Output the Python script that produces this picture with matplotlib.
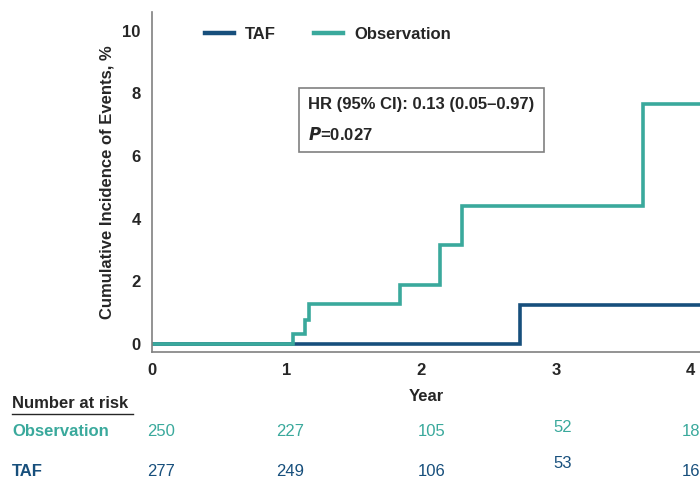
import matplotlib

matplotlib.use("Agg")
import matplotlib.pyplot as plt
from matplotlib.lines import Line2D

plt.rcParams["font.family"] = ["Liberation Sans", "DejaVu Sans"]

TEAL = "#3aa99c"
BLUE = "#174f7c"
GRAY = "#808080"
TEXT = "#262626"

# step curves (year, cumulative incidence %)
obs_years = [0.0, 1.05, 1.14, 1.17, 1.84, 2.14, 2.30, 3.65, 4.07]
obs_values = [0.0, 0.32, 0.77, 1.29, 1.87, 3.16, 4.42, 7.65, 7.65]
taf_years = [0.0, 2.73, 4.07]
taf_values = [0.0, 1.23, 1.23]

risk_years = [0, 1, 2, 3, 4]
risk_obs = [250, 227, 105, 52, 18]
risk_taf = [277, 249, 106, 53, 16]

# small horizontal nudges (years) and vertical offsets (axes fraction) of the at-risk numbers
risk_dx = [0.07, 0.03, 0.08, 0.05, 0.0]
risk_dy = [0.0, 0.0, 0.0, 0.012, 0.0]

fig = plt.figure(figsize=(7.0, 4.8), dpi=100)
ax = fig.add_axes([0.217, 0.267, 0.783, 0.708])

ax.step(taf_years, taf_values, where="post", color=BLUE, lw=2.6, solid_joinstyle="miter")
ax.step(obs_years, obs_values, where="post", color=TEAL, lw=2.6, solid_joinstyle="miter")

ax.set_xlim(0, 4.07)
ax.set_ylim(-0.25, 10.6)
ax.set_xticks([0, 1, 2, 3, 4])
ax.set_yticks([0, 2, 4, 6, 8, 10])
for spine in ("top", "right"):
    ax.spines[spine].set_visible(False)
for spine in ("left", "bottom"):
    ax.spines[spine].set_color(GRAY)
    ax.spines[spine].set_linewidth(1.2)
ax.tick_params(length=0, labelsize=12, colors=TEXT, pad=8)
for lab in ax.get_xticklabels() + ax.get_yticklabels():
    lab.set_fontweight("bold")
ax.set_xlabel("Year", fontsize=12, fontweight="bold", color=TEXT, labelpad=8)
ax.set_ylabel("Cumulative Incidence of Events, %", fontsize=12, fontweight="bold",
              color=TEXT, labelpad=6)

handles = [Line2D([], [], color=BLUE, lw=3.2), Line2D([], [], color=TEAL, lw=3.2)]
leg = ax.legend(handles, ["TAF", "Observation"], loc="upper left", bbox_to_anchor=(0.07, 1.0),
                ncol=2, frameon=False, handlelength=1.7, handletextpad=0.7, columnspacing=2.3,
                prop={"weight": "bold", "size": 12})
for t in leg.get_texts():
    t.set_color(TEXT)

ax.text(0.285, 0.682, "HR (95% CI): 0.13 (0.05\u20130.97)\n$\\bfit{P}$=0.027", transform=ax.transAxes,
        fontsize=12, fontweight="bold", color=TEXT, va="center", ha="left", linespacing=2.0,
        bbox=dict(boxstyle="square,pad=0.55", facecolor="white", edgecolor=GRAY, lw=1.2))

# number at risk table
fig.text(12 / 700, 1 - 404 / 480, "Number at risk", fontsize=12, fontweight="bold",
         color=TEXT, va="center", ha="left")
fig.add_artist(Line2D([12 / 700, 133 / 700], [1 - 414 / 480] * 2, color=TEXT, lw=1))
fig.text(12 / 700, 1 - 432 / 480, "Observation", fontsize=12, fontweight="bold",
         color=TEAL, va="center", ha="left")
fig.text(12 / 700, 1 - 472 / 480, "TAF", fontsize=12, fontweight="bold",
         color=BLUE, va="center", ha="left")
trans = ax.get_xaxis_transform()
for yr, n_obs, n_taf, dx, dy in zip(risk_years, risk_obs, risk_taf, risk_dx, risk_dy):
    ax.text(yr + dx, -0.235 + dy, str(n_obs), transform=trans, fontsize=12,
            color=TEAL, ha="center", va="center", clip_on=False)
    ax.text(yr + dx, -0.353 + 2 * dy, str(n_taf), transform=trans, fontsize=12,
            color=BLUE, ha="center", va="center", clip_on=False)

fig.savefig("out.png", dpi=100)
